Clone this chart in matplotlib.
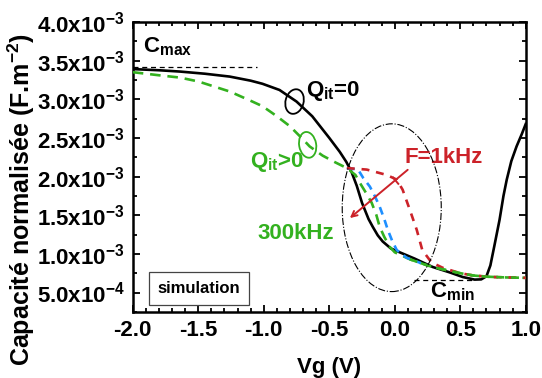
import matplotlib
matplotlib.use("Agg")
import matplotlib.pyplot as plt
from matplotlib.patches import Ellipse
import matplotlib.transforms as mtransforms
import numpy as np

plt.rcParams['font.family'] = ['Liberation Sans', 'DejaVu Sans']
plt.rcParams['font.weight'] = 'bold'
plt.rcParams['mathtext.fontset'] = 'custom'
plt.rcParams['mathtext.rm'] = 'Liberation Sans:bold'
plt.rcParams['mathtext.bf'] = 'Liberation Sans:bold'
plt.rcParams['mathtext.it'] = 'Liberation Sans:bold'

# ---- data (capacitance in units of 1e-3 F/m^2) ----
black_x = [-2.0, -1.8, -1.64, -1.45, -1.26, -1.1, -1.01, -0.88, -0.75, -0.63, -0.5, -0.42,
           -0.37, -0.33, -0.29, -0.25, -0.2, -0.168, -0.13, -0.092, -0.03, 0.038, 0.15,
           0.29, 0.42, 0.52, 0.61, 0.66, 0.70, 0.73, 0.76, 0.80, 0.83, 0.855, 0.89, 0.93,
           0.97, 1.0]
black_y = [3.39, 3.375, 3.358, 3.33, 3.293, 3.24, 3.20, 3.12, 2.97, 2.78, 2.50, 2.32,
           2.19, 2.06, 1.88, 1.66, 1.45, 1.35, 1.24, 1.16, 1.07, 1.02, 0.94,
           0.83, 0.76, 0.70, 0.667, 0.670, 0.71, 0.85, 1.10, 1.44, 1.75, 1.96, 2.20, 2.39,
           2.55, 2.68]

green_x = [-2.0, -1.8, -1.64, -1.5, -1.26, -1.1, -1.01, -0.9, -0.8, -0.7, -0.65, -0.55,
           -0.45, -0.366, -0.30, -0.267, -0.22, -0.176, -0.14, -0.115, -0.08, -0.038, 0.0,
           0.115, 0.25, 0.366, 0.5, 0.6, 0.7, 0.85, 1.0]
green_y = [3.35, 3.31, 3.28, 3.23, 3.10, 2.98, 2.91, 2.78, 2.65, 2.48, 2.39, 2.27,
           2.18, 2.11, 2.02, 1.92, 1.79, 1.66, 1.50, 1.35, 1.22, 1.09, 1.02,
           0.93, 0.85, 0.80, 0.75, 0.72, 0.705, 0.695, 0.69]

blue_x = [-0.366, -0.28, -0.24, -0.19, -0.15, -0.115, -0.08, -0.053, -0.02, 0.015, 0.09, 0.2]
blue_y = [2.11, 2.09, 1.98, 1.87, 1.74, 1.61, 1.45, 1.31, 1.17, 1.05, 0.95, 0.88]

red_x = [-0.366, -0.214, -0.06, 0.015, 0.06, 0.115, 0.168, 0.21, 0.28, 0.366, 0.5, 0.6,
         0.75, 1.0]
red_y = [2.11, 2.09, 2.02, 1.96, 1.83, 1.57, 1.31, 1.05, 0.89, 0.82, 0.75, 0.72,
         0.70, 0.69]

cmax_level = 3.42
cmin_level = 0.667

yticks = [0.5, 1.0, 1.5, 2.0, 2.5, 3.0, 3.5, 4.0]
ytick_labels = [r'5.0x10$^{-4}$', r'1.0x10$^{-3}$', r'1.5x10$^{-3}$', r'2.0x10$^{-3}$',
                r'2.5x10$^{-3}$', r'3.0x10$^{-3}$', r'3.5x10$^{-3}$', r'4.0x10$^{-3}$']
xticks = [-2.0, -1.5, -1.0, -0.5, 0.0, 0.5, 1.0]

GREEN = '#33b11f'
RED = '#cc2229'
BLUE = '#1e8fff'

scale = 1e-3
fig = plt.figure(figsize=(5.42, 3.78), dpi=100)
ax = fig.add_axes([0.245, 0.175, 0.725, 0.767])

s = lambda v: np.array(v) * scale

ax.plot(black_x, s(black_y), color='black', lw=1.9, zorder=3)
ax.plot(green_x, s(green_y), color=GREEN, lw=1.9, dashes=(4, 2.6), zorder=4)
ax.plot(blue_x, s(blue_y), color=BLUE, lw=1.9, dashes=(3, 2.2), zorder=4)
ax.plot(red_x, s(red_y), color=RED, lw=1.9, dashes=(3, 2.6), zorder=4)
ax.plot(green_x[-8:], s(green_y[-8:]), color=GREEN, lw=1.9, dashes=(3, 2.6), zorder=5)

# Cmax / Cmin reference lines
ax.plot([-2.0, -1.05], [cmax_level * scale] * 2, color='black', lw=0.9, dashes=(4, 3))
ax.plot([0.15, 0.6], [cmin_level * scale] * 2, color='black', lw=0.9, dashes=(4, 3))

# big dash-dot ellipse (data coords)
ax.add_patch(Ellipse((-0.023, 1.597e-3), 0.756, 2.17e-3, fill=False, ec='black',
                     lw=0.8, ls='-.', zorder=6))


def small_ellipse(xc, yc, w_in, h_in, ang, color):
    tr = fig.dpi_scale_trans + mtransforms.ScaledTranslation(xc, yc, ax.transData)
    ax.add_patch(Ellipse((0, 0), w_in, h_in, angle=ang, fill=False, ec=color,
                         lw=1.3, transform=tr, zorder=6))


small_ellipse(-0.765, 2.97e-3, 0.18, 0.25, -15, 'black')
small_ellipse(-0.665, 2.41e-3, 0.17, 0.26, 10, GREEN)

# arrow
ax.annotate('', xy=(-0.359, 1.44e-3), xytext=(0.115, 2.11e-3),
            arrowprops=dict(arrowstyle='->', color=RED, lw=1.4, mutation_scale=10),
            zorder=7)
ax.plot([-0.012, 0.027], [1.986e-3, 1.906e-3], color=RED, lw=1.4, zorder=7)

# texts
FS = 16
ax.text(-1.925, 3.60e-3, r'C$_{\mathbf{max}}$', fontsize=FS, color='black', va='baseline')
ax.text(-0.679, 3.044e-3, r'Q$_{\mathbf{it}}$=0', fontsize=FS, color='black', va='baseline')
ax.text(-1.107, 2.127e-3, r'Q$_{\mathbf{it}}$>0', fontsize=FS, color=GREEN, va='baseline')
ax.text(0.076, 2.178e-3, 'F=1kHz', fontsize=FS, color=RED, va='baseline')
ax.text(-1.046, 1.196e-3, '300kHz', fontsize=FS, color=GREEN, va='baseline')
ax.text(0.267, 0.434e-3, r'C$_{\mathbf{min}}$', fontsize=FS, color='black', va='baseline')
ax.text(-1.81, 0.55e-3, 'simulation', fontsize=12, color='black', va='center',
        bbox=dict(boxstyle='square,pad=0.55', fc='white', ec='#444444', lw=0.9))

ax.set_xlim(-2.0, 1.0)
ax.set_ylim(0.25e-3, 4.0e-3)
ax.set_xticks(xticks)
ax.set_xticklabels([f'{v:.1f}' for v in xticks])
ax.set_yticks(s(yticks))
ax.set_yticklabels(ytick_labels)
ax.set_xticks(np.arange(-2.0, 1.001, 0.1), minor=True)
ax.set_yticks(s(np.arange(0.25, 4.01, 0.25)), minor=True)
ax.tick_params(which='both', direction='in', top=True, right=True, width=1.3)
ax.tick_params(which='major', length=5, labelsize=16, pad=6)
ax.tick_params(which='minor', length=3)
for lab in ax.get_xticklabels() + ax.get_yticklabels():
    lab.set_fontweight('bold')
for sp in ax.spines.values():
    sp.set_linewidth(1.8)

ax.set_xlabel('Vg (V)', fontsize=16, fontweight='bold')
ax.xaxis.set_label_coords(0.5, -0.155)
ax.set_ylabel(r'Capacité normalisée (F.m$^{-2}$)', fontsize=18, fontweight='bold')
ax.yaxis.set_label_coords(-0.244, 0.386)

fig.savefig('out.png', dpi=100)
